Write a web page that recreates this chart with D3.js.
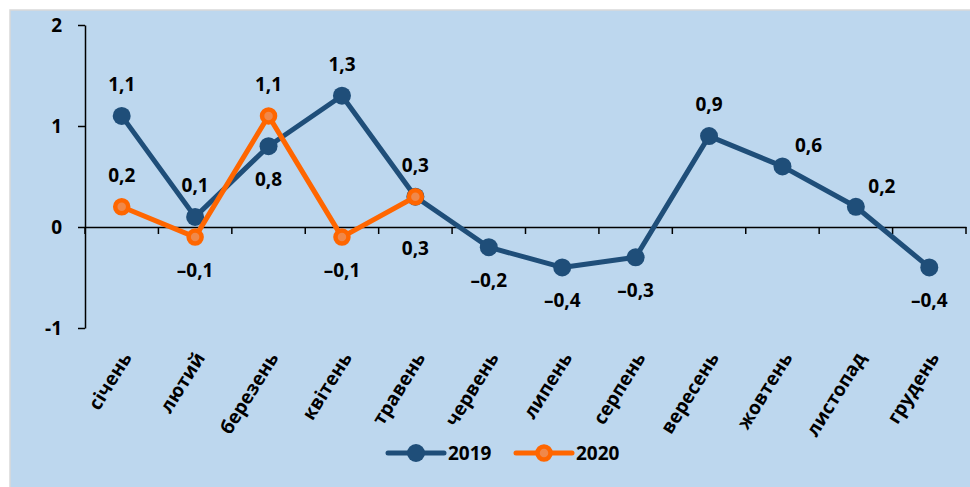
<!DOCTYPE html>
<html><head><meta charset="utf-8">
<script src="https://cdn.jsdelivr.net/npm/d3@7"></script>
<style>
html,body{margin:0;padding:0;background:#fff;}
text{font-family:"Open Sans","Noto Sans",sans-serif;font-weight:bold;fill:#000;}
</style></head><body>
<svg id="chart" width="970" height="487"></svg>
<script>
const months = ["січень","лютий","березень","квітень","травень","червень","липень","серпень","вересень","жовтень","листопад","грудень"];
const values2019 = [1.1, 0.1, 0.8, 1.3, 0.3, -0.2, -0.4, -0.3, 0.9, 0.6, 0.2, -0.4];
const values2020 = [0.2, -0.1, 1.1, -0.1, 0.3];
const yTicks = [-1, 0, 1, 2];
const seriesNames = ["2019", "2020"];
// label placement: "a" above, "b" below, "bb" far below, "r" above-right
const pos2019 = ["a","a","b","a","bb","b","b","b","a","r","r","b"];
const pos2020 = ["a","b","a","b","a"];

const svg = d3.select("#chart");
const blue = "#1F4E79", orange = "#FF6600";
const FS = 19;

svg.append("rect").attr("x",10).attr("y",10).attr("width",962).attr("height",480)
  .attr("fill","#BDD7EE").attr("stroke","#D9D9D9").attr("stroke-width",1.5);

const x = d3.scaleBand().domain(months).range([85, 966]);
const y = d3.scaleLinear().domain([-1, 2]).range([328, 25]);
const cx = m => x(m) + x.bandwidth()/2;

// y axis
const yAxis = svg.append("g").attr("transform","translate(85,0)")
  .call(d3.axisLeft(y).tickValues(yTicks).tickFormat(d => d).tickSize(7).tickSizeOuter(0));
yAxis.select(".domain").attr("stroke","#000").attr("stroke-width",1.5);
yAxis.selectAll(".tick line").attr("stroke","#000").attr("stroke-width",1.5);
yAxis.selectAll(".tick text").attr("x",-23).attr("font-size",FS).attr("dy","0.35em");

// x axis at 0
const xAxis = svg.append("g").attr("transform",`translate(0,${y(0)})`)
  .call(d3.axisBottom(x).tickSize(0).tickFormat(""));
xAxis.select(".domain").attr("stroke","#000").attr("stroke-width",1.5);
const bounds = months.map(m => x(m)).concat([x.range()[1]]);
svg.append("g").selectAll("line").data(bounds).join("line")
  .attr("x1",d=>d).attr("x2",d=>d).attr("y1",y(0)).attr("y2",y(0)+7)
  .attr("stroke","#000").attr("stroke-width",1.5);

// x labels
svg.append("g").selectAll("text").data(months).join("text")
  .attr("transform", d => `translate(${cx(d)+5},${354}) rotate(-58)`)
  .attr("text-anchor","end").attr("dy","0.35em").attr("font-size",FS).text(d=>d);

const fmt = v => (v < 0 ? "–" : "") + Math.abs(v).toFixed(1).replace(".", ",");

function drawSeries(vals, color, isRing) {
  const pts = vals.map((v,i) => [cx(months[i]), y(v)]);
  svg.append("path").attr("d", d3.line()(pts)).attr("fill","none")
    .attr("stroke",color).attr("stroke-width",5).attr("stroke-linejoin","round");
  const g = svg.append("g");
  pts.forEach(p => {
    if (isRing) {
      g.append("circle").attr("cx",p[0]).attr("cy",p[1]).attr("r",6.5)
        .attr("fill","#F0884A").attr("stroke",color).attr("stroke-width",4.5);
    } else {
      g.append("circle").attr("cx",p[0]).attr("cy",p[1]).attr("r",9).attr("fill",color);
    }
  });
  return pts;
}
const p19 = drawSeries(values2019, blue, false);
const p20 = drawSeries(values2020, orange, true);

function labels(vals, pts, posArr) {
  const dy = {a:-25, b:40, bb:58, r:-14};
  svg.append("g").selectAll("text").data(vals).join("text")
    .attr("x",(d,i)=> posArr[i]==="r" ? pts[i][0]+26 : pts[i][0])
    .attr("y",(d,i)=> pts[i][1] + dy[posArr[i]])
    .attr("text-anchor","middle").attr("font-size",FS).text(d=>fmt(d));
}
labels(values2019, p19, pos2019);
labels(values2020, p20, pos2020);

// legend
const leg = svg.append("g");
const items = [{name:seriesNames[0], color:blue, ring:false, x:388},{name:seriesNames[1], color:orange, ring:true, x:516}];
items.forEach(it => {
  leg.append("line").attr("x1",it.x).attr("x2",it.x+56).attr("y1",453).attr("y2",453)
    .attr("stroke",it.color).attr("stroke-width",5).attr("stroke-linecap","round");
  if (it.ring) leg.append("circle").attr("cx",it.x+28).attr("cy",453).attr("r",6.5)
    .attr("fill","#F0884A").attr("stroke",it.color).attr("stroke-width",4.5);
  else leg.append("circle").attr("cx",it.x+28).attr("cy",453).attr("r",9).attr("fill",it.color);
  leg.append("text").attr("x",it.x+60).attr("y",453).attr("dy","0.35em").attr("font-size",FS).text(it.name);
});
</script></body></html>
